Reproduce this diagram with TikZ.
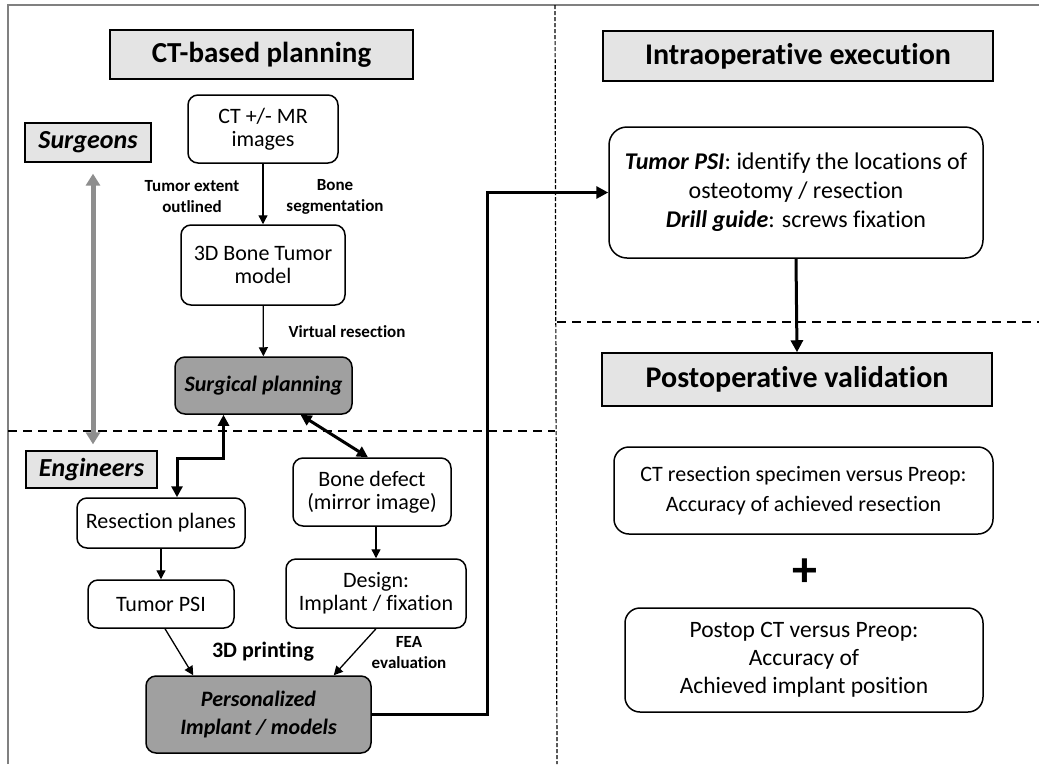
\documentclass[tikz,border=0pt]{standalone}
\usepackage{fontspec}
\setmainfont{Carlito}[Ligatures=NoCommon]
\usetikzlibrary{calc,positioning,arrows.meta}
\definecolor{HeadGray}{HTML}{E4E4E4}
\definecolor{PlanGray}{HTML}{A0A0A0}
\definecolor{RoleGray}{HTML}{8E8E8E}

\begin{document}
\begin{tikzpicture}[x=1pt,y=-1pt,
		headbox/.style={draw=black, fill=HeadGray, line width=1.5pt,
			align=center, font=\fontsize{29}{30}\selectfont\bfseries},
		rolebox/.style={draw=black, fill=HeadGray, line width=1.3pt,
			font=\fontsize{26}{28}\selectfont\bfseries\itshape},
		box/.style={draw=black, fill=white, rounded corners=10pt, line width=1.5pt,
			align=center, font=\fontsize{22}{23}\selectfont},
		darkbox/.style={box, fill=PlanGray, font=\fontsize{22}{28}\selectfont\bfseries\itshape},
		lbl/.style={align=center, font=\fontsize{17}{21}\selectfont\bfseries},
		arrow/.style={-{Triangle[length=9pt,width=9pt]}, line width=1.3pt},
		bigarrow/.style={-{Triangle[length=12pt,width=12pt]}, line width=3pt},
		biarrow/.style={{Triangle[length=11pt,width=11pt]}-{Triangle[length=11pt,width=11pt]}, line width=3pt},
		rolearrow/.style={{Triangle[length=12pt,width=14pt]}-{Triangle[length=12pt,width=14pt]},
			line width=5pt, RoleGray},
		divider/.style={line width=1.2pt, dash pattern=on 9pt off 6pt}
		]
		\useasboundingbox (0,0) rectangle (1039,764);
		% frame and separators
		\draw[gray, line width=2pt] (8,764) -- (8,5) -- (1039,5);
		\draw[line width=1.2pt, dash pattern=on 4pt off 2pt] (555,5) -- (557,764);
		\draw[divider] (8,431) -- (555,431);
		\draw[divider] (557,322) -- (1039,322);
		
		% CT-based planning
		\node[headbox, minimum width=303pt, minimum height=49pt] (ctplan) at (261.5,54.5) {CT-based planning};
		\node[rolebox, minimum width=126pt, minimum height=39pt] (surg) at (88,142.5) {Surgeons};
		\node[rolebox, minimum width=131pt, minimum height=37pt] (eng) at (91.5,469.5) {Engineers};
		\node[box, minimum width=150pt, minimum height=68pt] (ctmr) at (263,129) {CT +/- MR\\images};
		\node[box, minimum width=164pt, minimum height=80pt] (bone3d) at (263,265) {3D Bone Tumor\\model};
		\node[darkbox, minimum width=177pt, minimum height=57pt] (plan) at (263.5,385.5) {Surgical planning};
		\node[box, minimum width=158pt, minimum height=68pt] (defect) at (372,492) {Bone defect\\(mirror image)};
		\node[box, minimum width=168pt, minimum height=50pt] (resplanes) at (161,523) {Resection planes};
		\node[box, minimum width=146pt, minimum height=48pt] (tpsi) at (161,604) {Tumor PSI};
		\node[box, minimum width=180pt, minimum height=69pt] (design) at (376,593.5) {Design:\\Implant / fixation};
		\node[darkbox, minimum width=225pt, minimum height=77pt] (pers) at (258.5,714.5) {Personalized\\Implant / models};
		
		\node[lbl] (extent) at (192,197) {Tumor extent\\outlined};
		\node[lbl] (segm) at (335,197) {Bone\\segmentation};
		\node[lbl] (virt) at (347,332) {Virtual resection};
		\node[lbl, font=\fontsize{22}{24}\selectfont\bfseries] (print) at (263,652) {3D printing};
		\node[lbl] (fea) at (409,653) {FEA\\evaluation};
		
		% Intraoperative execution
		\node[headbox, font=\fontsize{30}{31}\selectfont\bfseries, minimum width=390pt, minimum height=50pt] (intraop) at (798,56) {Intraoperative execution};
		\node[box, rounded corners=18pt, font=\fontsize{24}{29}\selectfont, minimum width=374pt, minimum height=131pt] (intra) at (796,192.5)
			{\textbf{\textit{Tumor PSI}}: identify the locations of\\osteotomy / resection\\\textbf{\textit{Drill guide}}: screws fixation};
		
		% Postoperative validation
		\node[headbox, font=\fontsize{30}{31}\selectfont\bfseries, minimum width=390pt, minimum height=53pt] (postval) at (797,379.5) {Postoperative validation};
		\node[box, rounded corners=15pt, font=\fontsize{22}{30}\selectfont, minimum width=379pt, minimum height=87pt] (ctres) at (803.5,490.5)
			{CT resection specimen versus Preop:\\Accuracy of achieved resection};
		\node[font=\fontsize{50}{50}\selectfont\bfseries] (plus) at (805,573) {+};
		\node[box, rounded corners=15pt, font=\fontsize{23.5}{28}\selectfont, minimum width=358pt, minimum height=104pt] (postct) at (804,660)
			{Postop CT versus Preop:\\Accuracy of\\Achieved implant position};
		
		% connectors
		\draw[rolearrow] ($(surg.south)+(5,11)$) -- ($(eng.north)+(1.5,-6)$);
		\draw[arrow] (ctmr) -- (bone3d);
		\draw[arrow] (bone3d) -- (plan);
		\draw[biarrow] ($(plan.south)+(37,0)$) -- ($(defect.north)+(-4,0)$);
		\draw[biarrow] ($(plan.south)+(-40,0)$) -- ++(0,44) -| ($(resplanes.north)+(16,0)$);
		\draw[arrow] (resplanes) -- (tpsi);
		\draw[arrow] ($(defect.south)+(4,0)$) -- (design.north);
		\draw[arrow] ($(tpsi.south)+(4,0)$) -- ($(pers.north west)+(48,0)$);
		\draw[arrow] (design.south) -- ($(pers.north east)+(-38,0)$);
		\draw[bigarrow] (pers.east) -| ($(intra.west)+(-121,0)$) -- (intra.west);
		\draw[bigarrow] (intra.south) -- (postval.north);
	\end{tikzpicture}
\end{document}
